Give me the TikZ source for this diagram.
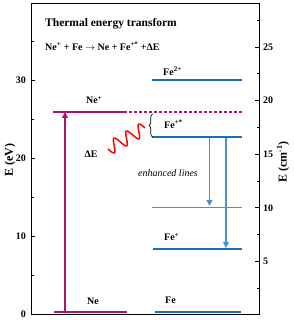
\documentclass[tikz,border=0pt]{standalone}
\usepackage{fontspec}
\setmainfont{Liberation Serif}
\usetikzlibrary{decorations.pathreplacing,arrows.meta}
\definecolor{neC}{RGB}{172,18,110}
\definecolor{feC}{RGB}{22,112,192}
\definecolor{feL}{RGB}{70,145,210}
\begin{document}
\begin{tikzpicture}[x=1pt,y=-1pt,
  lbl/.style={font=\bfseries\fontsize{10}{12}\selectfont, inner sep=0pt},
  ticklbl/.style={font=\bfseries\fontsize{10}{12}\selectfont, inner sep=0pt},
  axlbl/.style={font=\bfseries\fontsize{12}{14}\selectfont, rotate=90, inner sep=0pt},
  nelevel/.style={neC, line width=2pt},
  felevel/.style={feC, line width=2pt},
  uparrow/.style={neC, line width=1.3pt, -{Triangle[length=6pt,width=6pt]}},
  downarrow/.style={feL, line width=1.1pt, -{Triangle[length=6pt,width=6pt]}}]
\useasboundingbox (0,0) rectangle (293,320);
% frame
\draw[line width=0.9pt] (31,3) rectangle (259,314);
% left ticks
\foreach \e in {0,10,20,30}{
  \pgfmathsetmacro\yy{314-7.8*\e}
  \draw[line width=0.8pt] (31,\yy) -- (35,\yy);
  \node[ticklbl, anchor=east] at (26,\yy) {\e};
}
\foreach \e in {5,15,25,35}{
  \pgfmathsetmacro\yy{314-7.8*\e}
  \draw[line width=0.8pt] (31,\yy) -- (33.5,\yy);
}
% right ticks
\foreach \c in {5,10,15,20,25}{
  \pgfmathsetmacro\yy{315-10.72*\c}
  \draw[line width=0.8pt] (259,\yy) -- (255,\yy);
  \node[ticklbl, anchor=west] at (263,\yy) {\c};
}
\foreach \c in {2.5,7.5,12.5,17.5,22.5,27.5}{
  \pgfmathsetmacro\yy{315-10.72*\c}
  \draw[line width=0.8pt] (259,\yy) -- (256.5,\yy);
}
% axis labels
\node[axlbl] (ylab) at (10,160) {E (eV)};
\node[axlbl] (y2lab) at (283,162) {E (cm\textsuperscript{-1})};
% title and equation
\node[font=\bfseries\fontsize{11.5}{13}\selectfont, anchor=west, inner sep=0pt] (title) at (45,24) {Thermal energy transform};
\node[font=\bfseries\fontsize{10}{12}\selectfont, anchor=west, inner sep=0pt] (eq) at (45,46) {Ne\textsuperscript{+} + Fe $\rightarrow$ Ne + Fe\textsuperscript{+*} +ΔE};
% levels
\coordinate (neP1) at (53,112);
\coordinate (neP2) at (124,112);
\coordinate (neP3) at (244,112);
\draw[nelevel] (neP1) -- (neP2);
\draw[neC, line width=1.1pt, dash pattern=on 3pt off 2pt] (neP2) -- (neP3);
\coordinate (ne01) at (54,312);
\coordinate (ne02) at (127,312);
\draw[neC, line width=2.6pt] (ne01) -- (ne02);
\coordinate (fe01) at (155,312);
\coordinate (fe02) at (241,312);
\draw[feC, line width=2.6pt] (fe01) -- (fe02);
\coordinate (fe2a) at (152,80);
\coordinate (fe2b) at (242,80);
\draw[felevel] (fe2a) -- (fe2b);
\coordinate (fesa) at (152,137);
\coordinate (fesb) at (242,137);
\draw[felevel] (fesa) -- (fesb);
\coordinate (mida) at (152,207.5);
\coordinate (midb) at (242,207.5);
\draw[feL, line width=1pt] (mida) -- (midb);
\coordinate (fe1a) at (153,248.5);
\coordinate (fe1b) at (242,248.5);
\draw[felevel] (fe1a) -- (fe1b);
% labels
\node[lbl, anchor=west] (lNeP) at (86,100) {Ne\textsuperscript{+}};
\node[lbl, anchor=west] (lNe) at (87,301) {Ne};
\node[lbl, anchor=west] (lFe2) at (163,71) {Fe\textsuperscript{2+}};
\node[lbl, anchor=west] (lFes) at (164,124) {Fe\textsuperscript{+*}};
\node[lbl, anchor=west] (lFe1) at (164,237) {Fe\textsuperscript{+}};
\node[lbl, anchor=west] (lFe) at (165,300) {Fe};
\node[lbl, anchor=center] (dE) at (91,154) {ΔE};
\node[font=\itshape\fontsize{10}{12}\selectfont, inner sep=0pt] (enh) at (168,173) {enhanced lines};
% arrows
\coordinate (upS) at (65,311);
\coordinate (upE) at (65,112);
\draw[uparrow] (upS) -- (upE);
\coordinate (d1S) at (209.5,138);
\coordinate (d1E) at (209.5,206);
\draw[downarrow] (d1S) -- (d1E);
\coordinate (d2S) at (226,138);
\coordinate (d2E) at (226,248);
\draw[downarrow] (d2S) -- (d2E);
% brace
\coordinate (brB) at (152.5,137);
\coordinate (brT) at (152.5,114);
\draw[black, line width=0.7pt, decorate, decoration={brace, amplitude=3.5pt}] (brB) -- (brT);
% wave
\draw[red, line width=1.5pt, smooth] plot[domain=0:1, samples=120]
  ({108+37*\x + 6.5*sin(3*360*\x)*0.5}, {149-21*\x + 6.5*sin(3*360*\x)*0.865});
\end{tikzpicture}
\end{document}
